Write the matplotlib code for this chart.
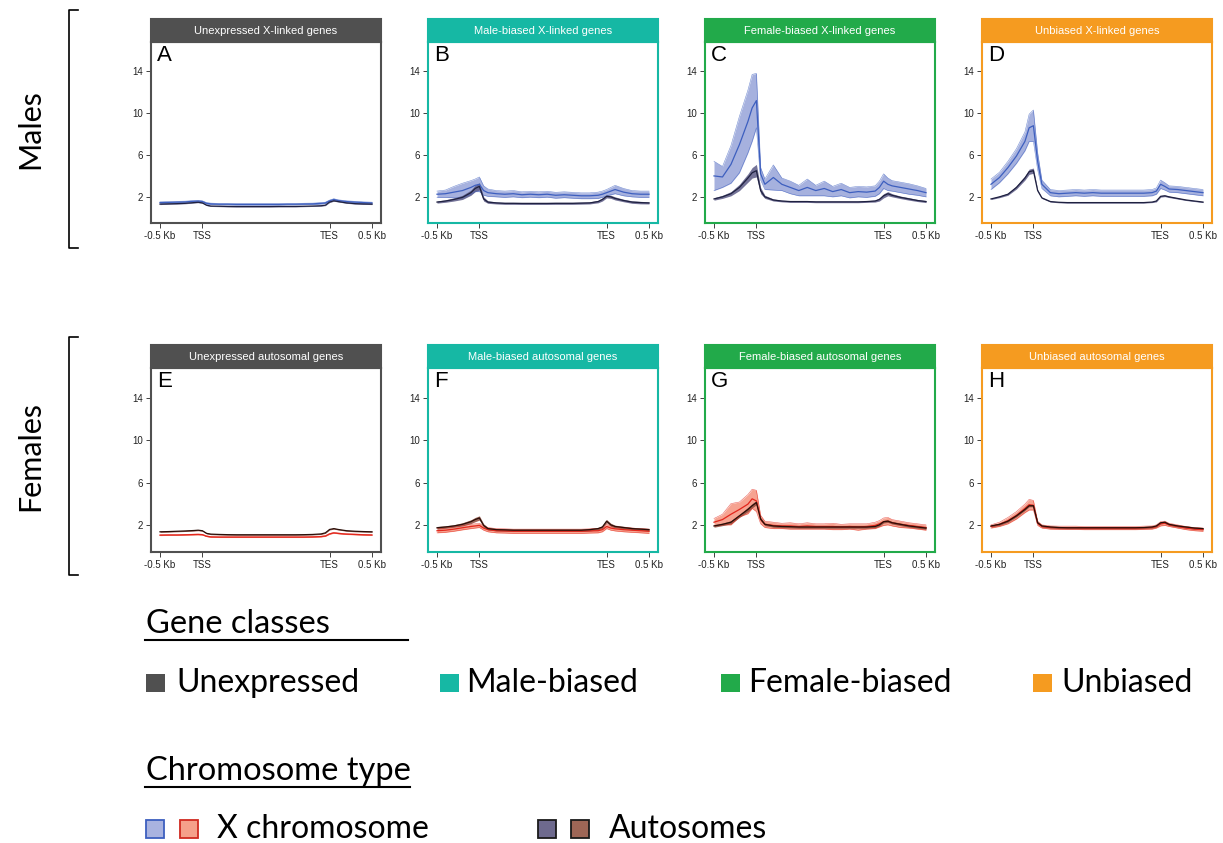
import numpy as np
import matplotlib.pyplot as plt
from matplotlib.patches import Rectangle
from matplotlib.lines import Line2D

# bin positions (0 = -0.5 Kb, 500 = TSS, 2000 = TES, 2500 = +0.5 Kb)
xpos = [0, 100, 200, 300, 400, 450, 500, 550, 600, 700, 800, 900, 1000, 1100, 1200,
        1300, 1400, 1500, 1600, 1700, 1800, 1900, 1950, 2000, 2050, 2100, 2200, 2300, 2400, 2500]
tick_pos = [0, 500, 2000, 2500]
tick_labels = ['-0.5 Kb', 'TSS', 'TES', '0.5 Kb']
y_ticks = [2, 6, 10, 14]

titles = ['Unexpressed X-linked genes', 'Male-biased X-linked genes',
          'Female-biased X-linked genes', 'Unbiased X-linked genes',
          'Unexpressed autosomal genes', 'Male-biased autosomal genes',
          'Female-biased autosomal genes', 'Unbiased autosomal genes']
letters = ['A', 'B', 'C', 'D', 'E', 'F', 'G', 'H']
class_names = ['Unexpressed', 'Male-biased', 'Female-biased', 'Unbiased']
class_colors = ['#505050', '#16b8a4', '#22aa4a', '#f59b20']

# males, X chromosome / autosomes (mean and half band width)
a_x = [1.45,1.47,1.50,1.52,1.58,1.60,1.55,1.38,1.33,1.30,1.30,1.28,1.28,1.28,1.28,1.28,1.28,1.30,1.30,1.32,1.33,1.38,1.42,1.62,1.75,1.65,1.55,1.50,1.45,1.42]
a_x_err = [0.07,0.07,0.07,0.07,0.07,0.07,0.07,0.07,0.07,0.07,0.07,0.07,0.07,0.07,0.07,0.07,0.07,0.07,0.07,0.07,0.07,0.07,0.07,0.07,0.07,0.07,0.07,0.07,0.07,0.07]
a_au = [1.30,1.33,1.35,1.38,1.45,1.48,1.42,1.20,1.12,1.10,1.08,1.07,1.07,1.07,1.07,1.07,1.08,1.08,1.08,1.10,1.12,1.15,1.20,1.50,1.62,1.55,1.42,1.35,1.32,1.30]
a_au_err = [0.04,0.04,0.04,0.04,0.04,0.04,0.04,0.04,0.04,0.04,0.04,0.04,0.04,0.04,0.04,0.04,0.04,0.04,0.04,0.04,0.04,0.04,0.04,0.04,0.04,0.04,0.04,0.04,0.04,0.04]

b_x = [2.25,2.30,2.45,2.60,2.90,3.10,3.20,2.60,2.40,2.30,2.25,2.30,2.20,2.25,2.20,2.25,2.15,2.20,2.15,2.10,2.10,2.15,2.25,2.40,2.55,2.70,2.45,2.30,2.25,2.25]
b_x_err = [0.30,0.35,0.55,0.70,0.65,0.60,0.70,0.45,0.35,0.30,0.30,0.30,0.28,0.28,0.28,0.28,0.28,0.28,0.28,0.28,0.28,0.30,0.30,0.30,0.35,0.40,0.35,0.30,0.30,0.30]
b_au = [1.50,1.60,1.75,1.95,2.40,2.80,3.00,1.80,1.50,1.42,1.38,1.38,1.37,1.37,1.37,1.37,1.38,1.38,1.38,1.40,1.42,1.55,1.75,2.05,2.00,1.85,1.65,1.50,1.45,1.42]
b_au_err = [0.10,0.12,0.15,0.20,0.25,0.30,0.35,0.20,0.12,0.10,0.10,0.10,0.10,0.10,0.10,0.10,0.10,0.10,0.10,0.10,0.10,0.12,0.15,0.15,0.15,0.15,0.12,0.12,0.12,0.10]

c_x = [4.00,3.90,5.10,7.00,9.20,10.50,11.20,4.20,3.20,3.85,3.20,2.90,2.60,2.90,2.60,2.80,2.50,2.70,2.40,2.50,2.45,2.55,2.90,3.50,3.20,3.05,2.90,2.75,2.60,2.40]
c_x_err = [1.40,1.00,1.80,2.70,3.00,3.20,2.60,0.60,0.50,1.20,0.60,0.60,0.50,0.80,0.50,0.70,0.50,0.60,0.50,0.50,0.50,0.50,0.60,0.70,0.60,0.50,0.50,0.50,0.45,0.40]
c_au = [1.80,2.00,2.30,2.90,3.80,4.30,4.50,2.60,2.00,1.70,1.60,1.55,1.55,1.55,1.52,1.52,1.52,1.52,1.52,1.52,1.55,1.60,1.75,2.10,2.30,2.15,1.95,1.80,1.65,1.55]
c_au_err = [0.12,0.15,0.20,0.30,0.40,0.50,0.60,0.30,0.15,0.10,0.08,0.08,0.08,0.08,0.08,0.08,0.08,0.08,0.08,0.08,0.08,0.10,0.15,0.20,0.20,0.15,0.12,0.12,0.10,0.10]

d_x = [3.20,3.85,4.80,5.90,7.30,8.60,8.80,5.40,3.20,2.40,2.30,2.35,2.40,2.35,2.40,2.35,2.35,2.35,2.35,2.35,2.35,2.40,2.55,3.20,3.00,2.75,2.70,2.60,2.50,2.40]
d_x_err = [0.50,0.50,0.60,0.70,0.90,1.30,1.50,0.80,0.40,0.30,0.30,0.30,0.30,0.30,0.30,0.30,0.30,0.30,0.30,0.30,0.30,0.30,0.30,0.40,0.35,0.30,0.30,0.30,0.30,0.30]
d_au = [1.80,2.00,2.25,2.90,3.80,4.40,4.50,2.60,1.90,1.55,1.48,1.45,1.45,1.45,1.45,1.45,1.45,1.45,1.45,1.45,1.45,1.50,1.60,2.05,2.10,2.00,1.85,1.70,1.60,1.50]
d_au_err = [0.06,0.08,0.10,0.15,0.20,0.25,0.25,0.10,0.06,0.05,0.05,0.05,0.05,0.05,0.05,0.05,0.05,0.05,0.05,0.05,0.05,0.05,0.08,0.08,0.08,0.07,0.06,0.05,0.05,0.05]

# females, X chromosome / autosomes
e_x = [1.08,1.10,1.10,1.12,1.14,1.15,1.13,0.98,0.92,0.90,0.90,0.90,0.90,0.90,0.90,0.90,0.90,0.90,0.90,0.90,0.92,0.95,1.00,1.20,1.30,1.25,1.18,1.15,1.12,1.10]
e_x_err = [0.04,0.04,0.04,0.04,0.04,0.04,0.04,0.04,0.04,0.04,0.04,0.04,0.04,0.04,0.04,0.04,0.04,0.04,0.04,0.04,0.04,0.04,0.04,0.04,0.04,0.04,0.04,0.04,0.04,0.04]
e_au = [1.40,1.42,1.45,1.48,1.52,1.55,1.50,1.25,1.18,1.15,1.13,1.12,1.12,1.12,1.12,1.12,1.12,1.12,1.12,1.13,1.15,1.20,1.30,1.62,1.70,1.62,1.50,1.45,1.42,1.40]
e_au_err = [0.05,0.05,0.05,0.05,0.05,0.05,0.05,0.05,0.05,0.05,0.05,0.05,0.05,0.05,0.05,0.05,0.05,0.05,0.05,0.05,0.05,0.05,0.05,0.05,0.05,0.05,0.05,0.05,0.05,0.05]

f_x = [1.50,1.55,1.65,1.78,1.90,1.95,2.00,1.75,1.60,1.50,1.48,1.45,1.45,1.45,1.45,1.45,1.45,1.45,1.45,1.45,1.48,1.50,1.60,1.90,1.75,1.68,1.60,1.55,1.50,1.45]
f_x_err = [0.20,0.20,0.20,0.20,0.20,0.20,0.20,0.20,0.20,0.20,0.20,0.20,0.20,0.20,0.20,0.20,0.20,0.20,0.20,0.20,0.20,0.20,0.20,0.20,0.20,0.20,0.20,0.20,0.20,0.20]
f_au = [1.78,1.85,1.95,2.10,2.35,2.55,2.70,2.00,1.70,1.60,1.58,1.55,1.55,1.55,1.55,1.55,1.55,1.55,1.55,1.55,1.60,1.70,1.85,2.40,2.05,1.90,1.80,1.70,1.65,1.60]
f_au_err = [0.12,0.12,0.12,0.15,0.18,0.20,0.20,0.15,0.12,0.12,0.12,0.12,0.12,0.12,0.12,0.12,0.12,0.12,0.12,0.12,0.12,0.12,0.12,0.15,0.15,0.12,0.12,0.12,0.12,0.12]

g_x = [2.30,2.55,3.05,3.50,4.00,4.50,4.30,2.55,2.10,2.00,1.95,1.95,1.90,1.95,1.90,1.90,1.90,1.85,1.90,1.85,1.90,2.00,2.15,2.35,2.40,2.25,2.10,2.00,1.90,1.80]
g_x_err = [0.35,0.50,1.00,0.70,0.90,0.90,1.00,0.40,0.30,0.30,0.25,0.30,0.25,0.30,0.25,0.25,0.30,0.25,0.25,0.30,0.25,0.30,0.30,0.35,0.35,0.30,0.30,0.25,0.25,0.25]
g_au = [1.95,2.10,2.30,2.90,3.50,3.85,4.15,2.60,2.10,1.95,1.90,1.88,1.85,1.85,1.85,1.85,1.85,1.85,1.85,1.85,1.85,1.90,2.05,2.35,2.40,2.25,2.10,1.95,1.85,1.75]
g_au_err = [0.12,0.12,0.15,0.15,0.20,0.20,0.20,0.15,0.12,0.12,0.12,0.12,0.12,0.12,0.12,0.12,0.12,0.12,0.12,0.12,0.12,0.12,0.12,0.12,0.12,0.12,0.12,0.12,0.12,0.12]

h_x = [1.90,2.10,2.45,2.95,3.60,3.95,3.90,2.20,1.90,1.80,1.78,1.78,1.78,1.75,1.75,1.75,1.75,1.75,1.75,1.75,1.78,1.80,1.90,2.15,2.20,2.05,1.90,1.75,1.65,1.60]
h_x_err = [0.15,0.20,0.30,0.35,0.40,0.50,0.45,0.20,0.15,0.15,0.15,0.15,0.15,0.15,0.15,0.15,0.15,0.15,0.15,0.15,0.15,0.15,0.15,0.20,0.20,0.15,0.15,0.15,0.15,0.15]
h_au = [1.95,2.10,2.40,2.90,3.50,3.85,3.85,2.25,1.95,1.85,1.80,1.78,1.78,1.78,1.78,1.78,1.78,1.78,1.78,1.78,1.80,1.85,1.95,2.25,2.30,2.10,1.95,1.85,1.75,1.70]
h_au_err = [0.10,0.10,0.10,0.10,0.10,0.10,0.10,0.10,0.10,0.10,0.10,0.10,0.10,0.10,0.10,0.10,0.10,0.10,0.10,0.10,0.10,0.10,0.10,0.10,0.10,0.10,0.10,0.10,0.10,0.10]

x_series = [(a_x, a_x_err), (b_x, b_x_err), (c_x, c_x_err), (d_x, d_x_err),
            (e_x, e_x_err), (f_x, f_x_err), (g_x, g_x_err), (h_x, h_x_err)]
au_series = [(a_au, a_au_err), (b_au, b_au_err), (c_au, c_au_err), (d_au, d_au_err),
             (e_au, e_au_err), (f_au, f_au_err), (g_au, g_au_err), (h_au, h_au_err)]

# line / band colours: [males, females]
x_line = ['#3d5fbf', '#e3261c']
x_fill = ['#8897d4', '#f4856c']
au_line = ['#1f2140', '#2a0e08']
au_fill = ['#5c5b86', '#8c4a3c']

W, H = 1223, 843
fig = plt.figure(figsize=(W / 100, H / 100), dpi=100)

def fx(px):
    return px / W

def fy(py):
    return 1 - py / H

lefts = [151, 428, 705, 982]
rows = [(19, 42, 223), (345, 368, 552)]  # header top, axes top, axes bottom
pw = 230
x = np.array(xpos)

for i in range(8):
    r, c = divmod(i, 4)
    htop, atop, abot = rows[r]
    ax = fig.add_axes([fx(lefts[c]), fy(abot), pw / W, (abot - atop) / H])
    col = class_colors[c]

    m, e = np.array(x_series[i][0]), np.array(x_series[i][1])
    ax.fill_between(x, m - e, m + e, color=x_fill[r], alpha=0.75, lw=0)
    ax.plot(x, m - e, color=x_line[r], lw=0.4, alpha=0.7)
    ax.plot(x, m + e, color=x_line[r], lw=0.4, alpha=0.7)
    ax.plot(x, m, color=x_line[r], lw=0.9)

    m, e = np.array(au_series[i][0]), np.array(au_series[i][1])
    ax.fill_between(x, m - e, m + e, color=au_fill[r], alpha=0.85, lw=0)
    ax.plot(x, m, color=au_line[r], lw=0.9)

    ax.set_xlim(-106, 2606)
    ax.set_ylim(-0.5, 16.8)
    ax.set_xticks(tick_pos)
    ax.set_xticklabels(tick_labels, family='Liberation Sans')
    ax.set_yticks(y_ticks)
    ax.set_yticklabels([str(v) for v in y_ticks], family='Liberation Sans')
    ax.tick_params(direction='out', length=3.5, width=0.6, labelsize=7, pad=2,
                   colors='#222222')
    for s in ax.spines.values():
        s.set_color(col)
        s.set_linewidth(1.5)

    hh = (atop - htop) / (abot - atop)
    ax.add_patch(Rectangle((0, 1), 1, hh, transform=ax.transAxes, clip_on=False,
                           facecolor=col, edgecolor=col, lw=1.5))
    ax.text(0.5, 1 + hh / 2, titles[i], transform=ax.transAxes, ha='center', va='center',
            color='white', fontsize=8, family='Liberation Sans')
    ax.text(0.025, 0.985, letters[i], transform=ax.transAxes, ha='left', va='top',
            fontsize=16, family='Liberation Sans')

# row brackets
for (top, bot, label) in [(10, 248, 'Males'), (337, 575, 'Females')]:
    fig.add_artist(Line2D([fx(78), fx(69), fx(69), fx(78)],
                          [fy(top), fy(top), fy(bot), fy(bot)], color='black', lw=1.2))
    fig.text(fx(30), fy((top + bot) / 2), label, rotation=90, ha='center', va='center',
             fontsize=22, family='Lato')

# legend
lf = 'Lato'
fig.text(fx(146), fy(633), 'Gene classes', fontsize=23.5, family=lf, va='baseline')
fig.add_artist(Line2D([fx(145), fx(408)], [fy(640), fy(640)], color='black', lw=1.5))
leg_x = [(146, 176), (440, 466), (721, 748), (1033, 1061)]
for (sx, tx), name, col in zip(leg_x, class_names, class_colors):
    fig.add_artist(Rectangle((fx(sx), fy(692)), 19 / W, 18 / H, transform=fig.transFigure,
                             facecolor=col, edgecolor='none'))
    fig.text(fx(tx), fy(692), name, fontsize=23, family=lf, va='baseline')

fig.text(fx(146), fy(780), 'Chromosome type', fontsize=23.5, family=lf, va='baseline')
fig.add_artist(Line2D([fx(145), fx(410)], [fy(787), fy(787)], color='black', lw=1.5))
chrom_sq = [(146, '#a9b3e0', '#3d5fbf'), (180, '#f5a08a', '#d02a20'),
            (538, '#6e6a8e', '#1a1a1a'), (571, '#9e6656', '#1a1a1a')]
for sx, fc, ec in chrom_sq:
    fig.add_artist(Rectangle((fx(sx), fy(838)), 18 / W, 18 / H, transform=fig.transFigure,
                             facecolor=fc, edgecolor=ec, lw=1.3))
fig.text(fx(217), fy(838), 'X chromosome', fontsize=23, family=lf, va='baseline')
fig.text(fx(609), fy(838), 'Autosomes', fontsize=23, family=lf, va='baseline')

fig.savefig('out.png', dpi=100)
